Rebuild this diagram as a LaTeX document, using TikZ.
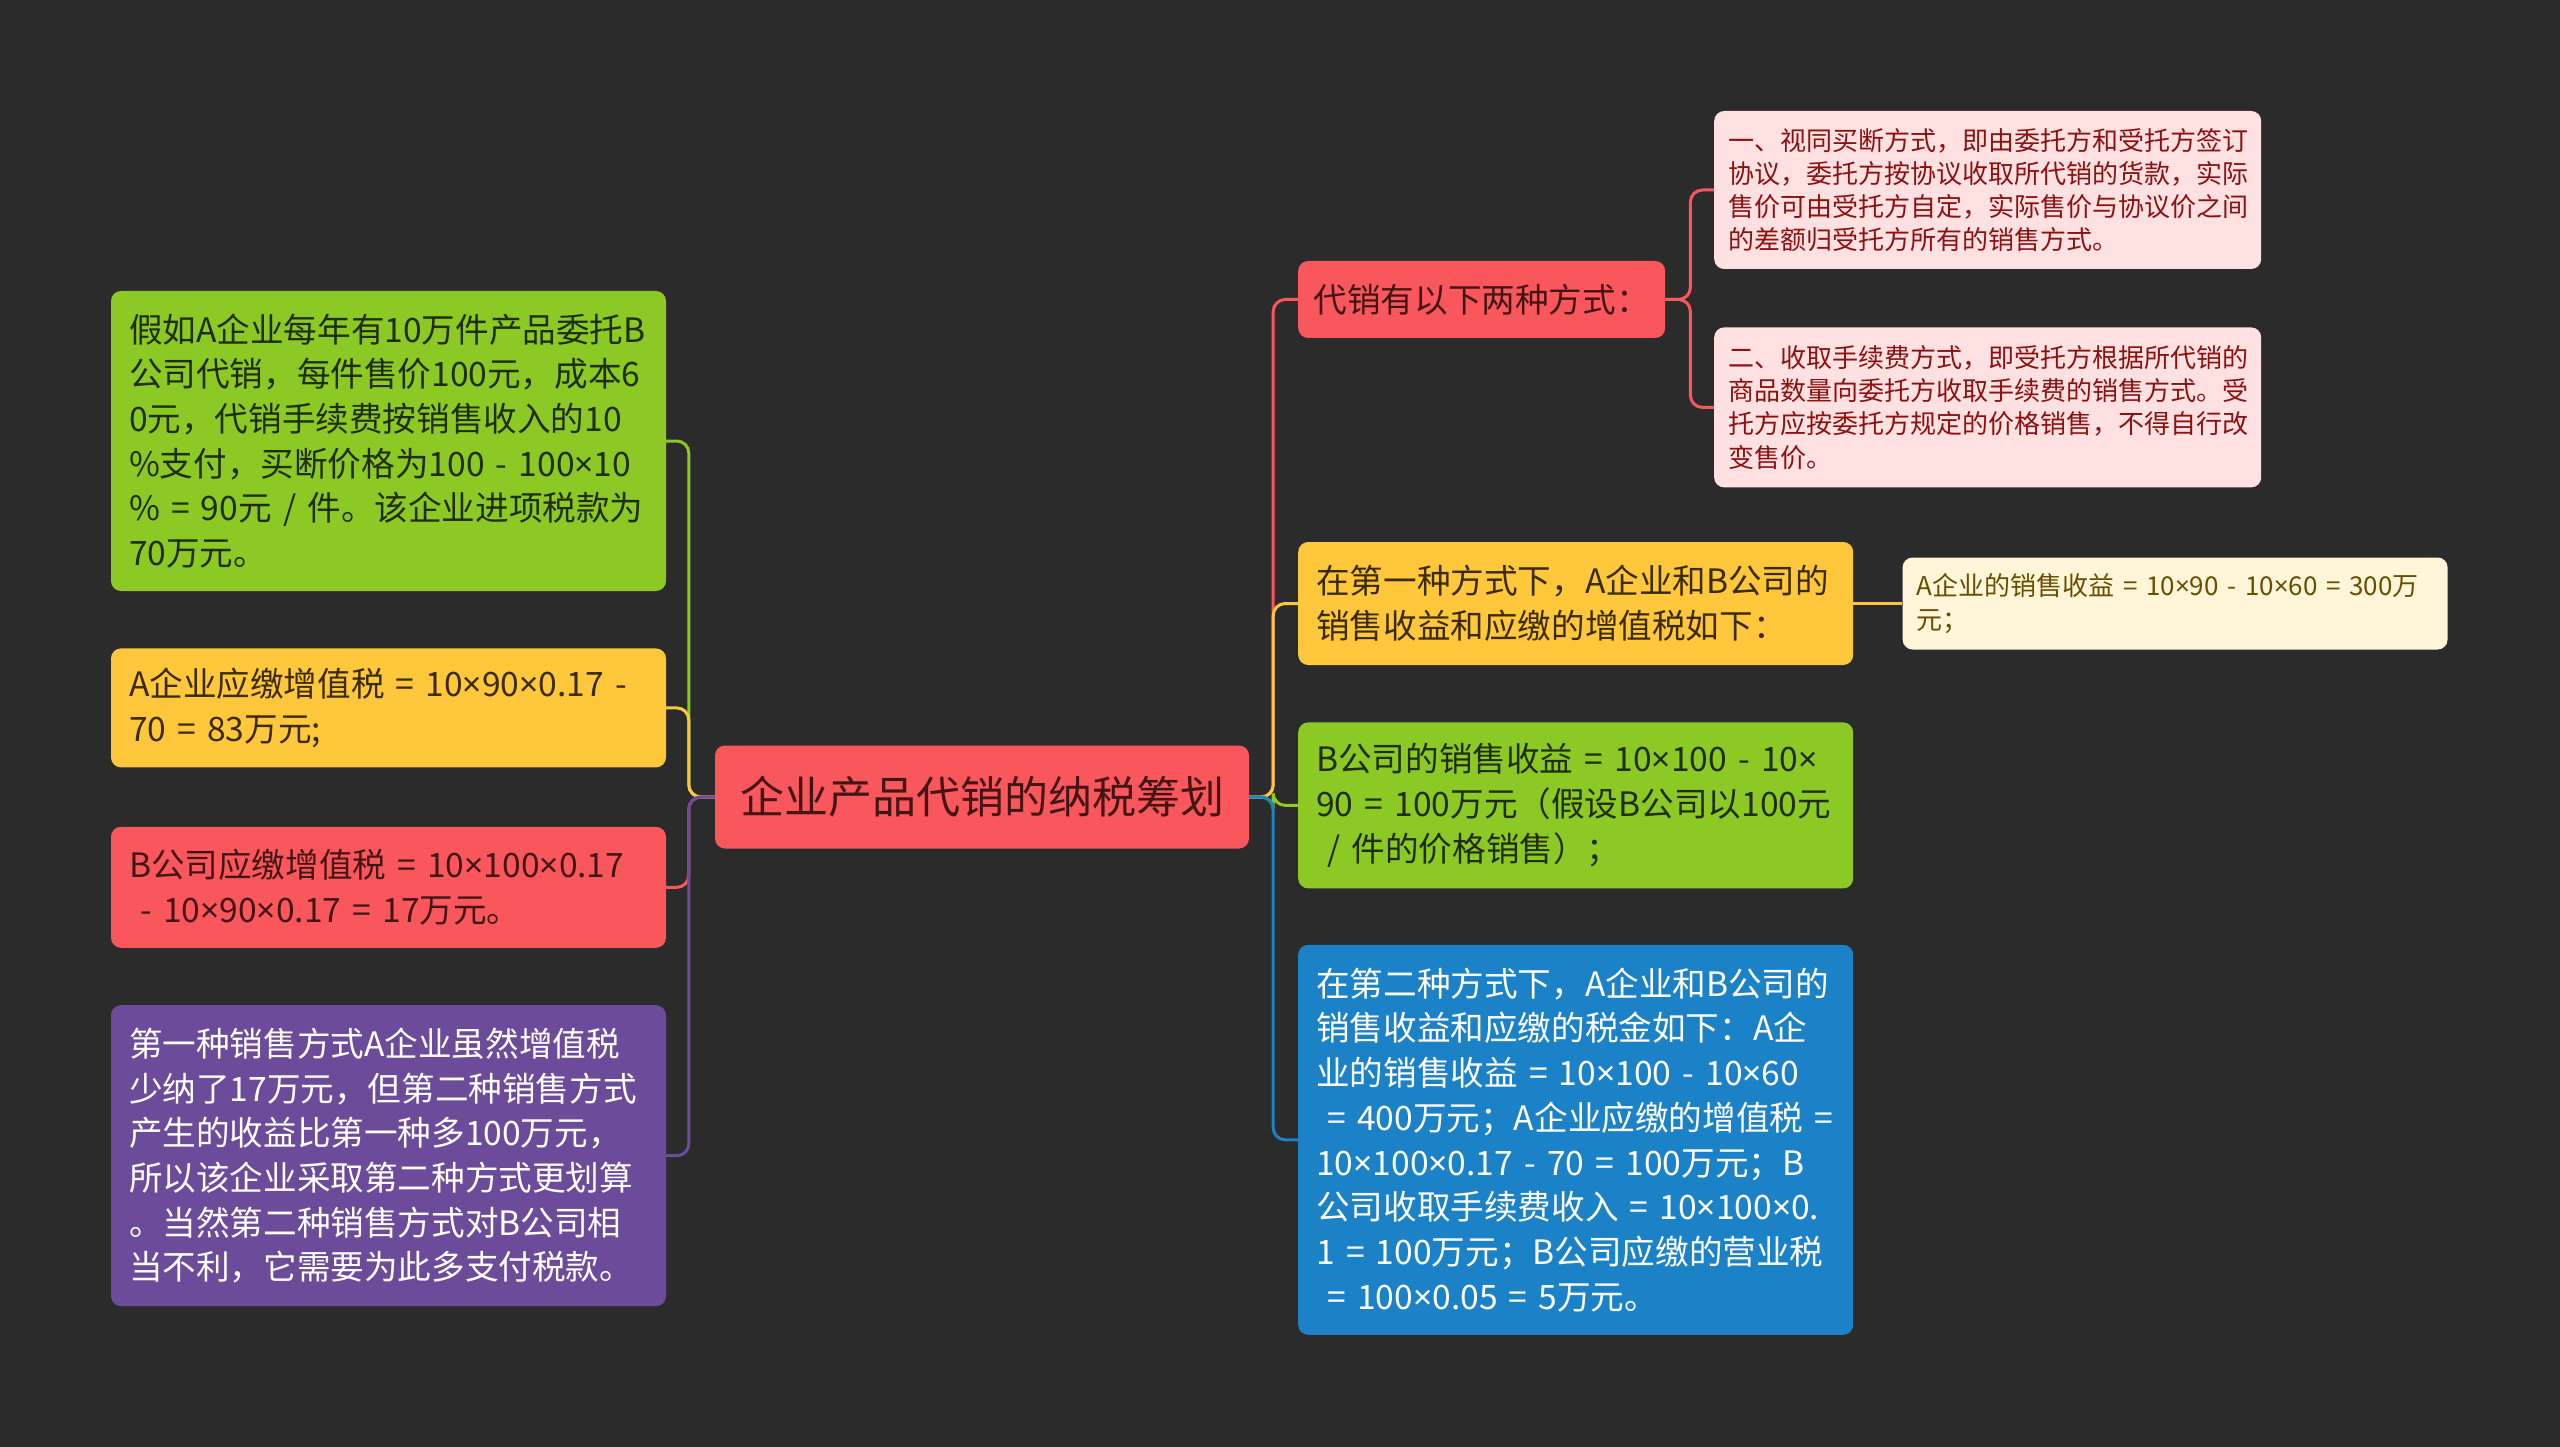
\documentclass[tikz,border=0pt]{standalone}
\usepackage{fontspec}
\setmainfont{Noto Sans CJK SC}
\newfontfamily\latinsans{Noto Sans}
\newcommand\tms{{\latinsans ×}}
\usetikzlibrary{positioning}
\definecolor{bgdark}{HTML}{2B2B2B}
\definecolor{mgreen}{HTML}{8CC925}
\definecolor{mgreentext}{HTML}{1F2D08}
\definecolor{myellow}{HTML}{FFC73B}
\definecolor{myellowtext}{HTML}{3B2B00}
\definecolor{mred}{HTML}{FA575D}
\definecolor{mredtext}{HTML}{441515}
\definecolor{mpurple}{HTML}{6C4C9A}
\definecolor{mblue}{HTML}{1C82C7}
\definecolor{mpink}{HTML}{FFE1E1}
\definecolor{mpinktext}{HTML}{8C1111}
\definecolor{mcream}{HTML}{FFF5D8}
\definecolor{mcreamtext}{HTML}{6A4E00}
\begin{document}
\begin{tikzpicture}[x=1pt, y=-1pt, every node/.style={align=left, rounded corners=10, inner ysep=0},
  topicbox/.style={font=\fontsize{33.6}{44.7}\selectfont, inner xsep=18, text width=519},
  notebox/.style={font=\fontsize{26}{33.2}\selectfont, inner xsep=14, text width=519},
  branch/.style={line width=3, rounded corners=12}]
  \fill[bgdark] (0,0) rectangle (2560,1447);
  \node[fill=mred, text=mredtext, font=\fontsize{44}{52}\selectfont, inner xsep=25, minimum width=534, minimum height=103] (plan) at (982,797) {企业产品代销的纳税筹划};
  \node[topicbox, fill=mgreen, text=mgreentext, minimum height=300] (assume) at (388.5,441) {假如A企业每年有10万件产品委托B\\公司代销，每件售价100元，成本6\\0元，代销手续费按销售收入的10\\\%支付，买断价格为100~-~100\tms 10\\\%~=~90元~/~件。该企业进项税款为\\70万元。};
  \node[topicbox, fill=myellow, text=myellowtext, minimum height=119, below=57pt of assume] (vatA) {A企业应缴增值税~=~10\tms 90\tms 0.17~-\\70~=~83万元;};
  \node[topicbox, fill=mred, text=mredtext, minimum height=121, below=59pt of vatA] (vatB) {B公司应缴增值税~=~10\tms 100\tms 0.17\\~-~10\tms 90\tms 0.17~=~17万元。};
  \node[topicbox, fill=mpurple, text=white, minimum height=301, below=57pt of vatB] (summary) {第一种销售方式A企业虽然增值税\\少纳了17万元，但第二种销售方式\\产生的收益比第一种多100万元，\\所以该企业采取第二种方式更划算\\。当然第二种销售方式对B公司相\\当不利，它需要为此多支付税款。};
  \node[font=\fontsize{33.6}{44.7}\selectfont, fill=mred, text=mredtext, minimum width=367, minimum height=77, inner xsep=12, anchor=west] (modes) at (1298,299.5) {代销有以下两种方式：};
  \node[notebox, fill=mpink, text=mpinktext, minimum height=158, anchor=west] (buyout) at (1714,190) {一、视同买断方式，即由委托方和受托方签订\\协议，委托方按协议收取所代销的货款，实际\\售价可由受托方自定，实际售价与协议价之间\\的差额归受托方所有的销售方式。};
  \node[notebox, fill=mpink, text=mpinktext, minimum height=160, below=58pt of buyout] (feemode) {二、收取手续费方式，即受托方根据所代销的\\商品数量向委托方收取手续费的销售方式。受\\托方应按委托方规定的价格销售，不得自行改\\变售价。};
  \node[topicbox, fill=myellow, text=myellowtext, minimum height=123, anchor=west] (first) at (1298,603.5) {在第一种方式下，A企业和B公司的\\销售收益和应缴的增值税如下：};
  \node[notebox, fill=mcream, text=mcreamtext, text width=517, minimum height=92, right=49pt of first] (incomeA) {A企业的销售收益~=~10\tms 90~-~10\tms 60~=~300万\\元；};
  \node[topicbox, fill=mgreen, text=mgreentext, minimum height=166, below=57pt of first] (incomeB) {B公司的销售收益~=~10\tms 100~-~10\tms\\90~=~100万元（假设B公司以100元\\~/~件的价格销售）；};
  \node[topicbox, fill=mblue, text=white, minimum height=390, below=56pt of incomeB] (second) {在第二种方式下，A企业和B公司的\\销售收益和应缴的税金如下：A企\\业的销售收益~=~10\tms 100~-~10\tms 60\\~=~400万元；A企业应缴的增值税~=\\10\tms 100\tms 0.17~-~70~=~100万元；B\\公司收取手续费收入~=~10\tms 100\tms 0.\\1~=~100万元；B公司应缴的营业税\\~=~100\tms 0.05~=~5万元。};
  \draw[branch, mgreen] (plan.west) -- ++(-26,0) |- (assume.east); \draw[branch, myellow] (plan.west) -- ++(-26,0) |- (vatA.east);
  \draw[branch, mred] (plan.west) -- ++(-26,0) |- (vatB.east); \draw[branch, mpurple] (plan.west) -- ++(-26,0) |- (summary.east);
  \draw[branch, mred] (plan.east) -- ++(24,0) |- (modes.west); \draw[branch, myellow] (plan.east) -- ++(24,0) |- (first.west);
  \draw[branch, mgreen] (plan.east) -- ++(24,0) |- (incomeB.west); \draw[branch, mblue] (plan.east) -- ++(24,0) |- (second.west);
  \draw[branch, mred] (modes.east) -- ++(25,0) |- (buyout.west); \draw[branch, mred] (modes.east) -- ++(25,0) |- (feemode.west);
  \draw[branch, myellow] (first.east) -- (incomeA.west);
\end{tikzpicture}
\end{document}
